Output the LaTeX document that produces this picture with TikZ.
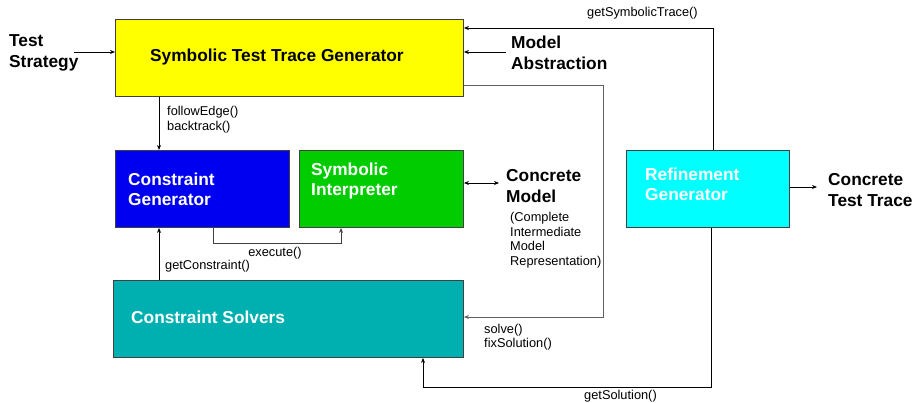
\documentclass[tikz,border=0pt]{standalone}
\usepackage{fontspec}
\setmainfont{Liberation Sans}
\usetikzlibrary{arrows.meta}

\definecolor{stgyellow}{HTML}{FFFF00}
\definecolor{cgblue}{HTML}{0000F0}
\definecolor{sigreen}{HTML}{00CC00}
\definecolor{csteal}{HTML}{00B0B0}
\definecolor{rgcyan}{HTML}{00FFFF}
\definecolor{edgegray}{HTML}{404040}
\definecolor{routegray}{HTML}{606060}

\tikzset{
  box/.style={draw=edgegray, line width=0.9pt, anchor=north west, inner sep=0pt},
  boxtext/.style={font=\fontsize{17.3}{20}\selectfont\bfseries, anchor=west, align=left, inner sep=0pt},
  outtext/.style={font=\fontsize{17.3}{20.5}\selectfont\bfseries, anchor=west, align=left, inner sep=0pt, text=black},
  calltext/.style={font=\fontsize{12.8}{14.5}\selectfont, anchor=west, align=left, inner sep=0pt},
  conn/.style={draw=black, line width=0.8pt, -{Stealth[length=5pt,width=4pt]}},
  conn2/.style={draw=black, line width=0.8pt, {Stealth[length=5pt,width=4pt]}-{Stealth[length=5pt,width=4pt]}},
}

\begin{document}
\begin{tikzpicture}[x=1pt, y=-1pt]
  \useasboundingbox (0,0) rectangle (917,403);

  % component boxes
  \node[box, fill=stgyellow, minimum width=348pt, minimum height=77pt] (stg) at (115,19) {};
  \node[box, fill=cgblue,    minimum width=174pt, minimum height=77pt] (cg)  at (115,150) {};
  \node[box, fill=sigreen,   minimum width=164pt, minimum height=77pt] (si)  at (299,150) {};
  \node[box, fill=csteal,    minimum width=350pt, minimum height=77pt] (cs)  at (113,280) {};
  \node[box, fill=rgcyan,    minimum width=163pt, minimum height=77pt] (rg)  at (626,150) {};

  % box captions
  \node[boxtext, text=black] (stgT) at (150,57) {Symbolic Test Trace Generator};
  \node[boxtext, text=white] (cgT)  at (128,189) {Constraint\\Generator};
  \node[boxtext, text=white] (siT)  at (311,181) {Symbolic\\Interpreter};
  \node[boxtext, text=white] (csT)  at (131,317) {Constraint Solvers};
  \node[boxtext, text=white] (rgT)  at (645,184) {Refinement\\Generator};

  % external inputs and outputs
  \node[outtext] (ts)  at (9,53)   {Test\\Strategy};
  \node[outtext] (ma)  at (511,53) {Model\\Abstraction};
  \node[outtext] (cm)  at (506,186) {Concrete\\Model};
  \node[calltext] (cmNote) at (510,240) {(Complete\\Intermediate\\Model\\Representation)};
  \node[outtext] (ctt) at (828,190) {Concrete\\Test Trace};

  % call labels
  \node[calltext] (lFollow) at (167,119.5) {followEdge()\\backtrack()};
  \node[calltext, anchor=center] (lExec) at (275,253) {execute()};
  \node[calltext] (lGetC) at (165,266) {getConstraint()};
  \node[calltext] (lSolve) at (484,337) {solve()\\fixSolution()};
  \node[calltext] (lGetS) at (584,396) {getSolution()};
  \node[calltext] (lGetT) at (587,13) {getSymbolicTrace()};

  % routing points
  \coordinate (tsEnd) at (74,52);
  \coordinate (maEnd) at (506,52);
  \coordinate (xLeft) at (159,0);
  \coordinate (exL) at (213,243);
  \coordinate (exR) at (341,243);
  \coordinate (cmEnd) at (499,183);
  \coordinate (gtTop) at (713,28);
  \coordinate (svTop) at (603,85);
  \coordinate (svBot) at (603,317);
  \coordinate (gsR) at (711,387);
  \coordinate (gsL) at (423,387);
  \coordinate (cttEnd) at (817,187);

  % connectors
  \draw[conn] (tsEnd) -- (stg.west |- tsEnd);
  \draw[conn] (maEnd) -- (stg.east |- maEnd);
  \draw[conn] (stg.south -| xLeft) -- (cg.north -| xLeft);
  \draw[conn] (cs.north -| xLeft) -- (cg.south -| xLeft);
  \draw[conn, draw=edgegray] (cg.south -| exL) -- (exL) -- (exR) -- (si.south -| exR);
  \draw[conn2] (si.east |- cmEnd) -- (cmEnd);
  \draw[conn] (rg.north -| gtTop) -- (gtTop) -- (stg.east |- gtTop);
  \draw[conn, draw=routegray] (stg.east |- svTop) -- (svTop) -- (svBot) -- (cs.east |- svBot);
  \draw[conn] (rg.south -| gsR) -- (gsR) -- (gsL) -- (cs.south -| gsL);
  \draw[conn] (rg.east |- cttEnd) -- (cttEnd);
\end{tikzpicture}
\end{document}
